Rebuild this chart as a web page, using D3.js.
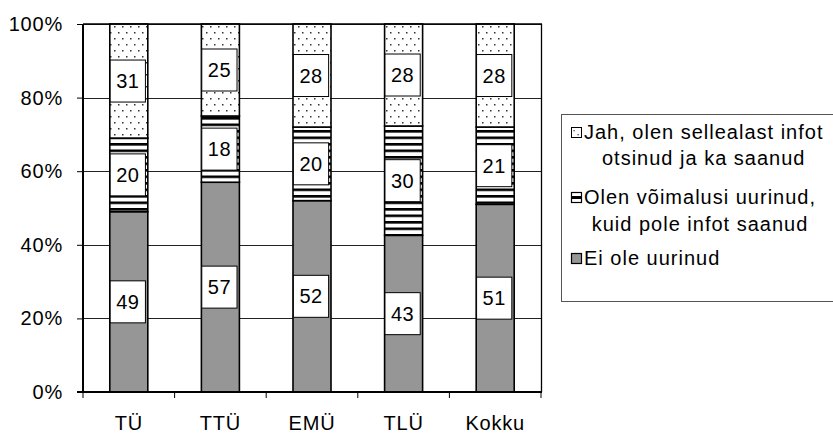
<!DOCTYPE html>
<html>
<head>
<meta charset="utf-8">
<script src="https://cdn.jsdelivr.net/npm/d3@7"></script>
<style>
  html, body { margin: 0; padding: 0; background: #fff; }
  svg { display: block; font-family: "Liberation Sans", Arial, sans-serif; }
</style>
</head>
<body>
<svg id="chart" width="833" height="434"></svg>
<script>
// ---- data ----
const categories = ["TÜ", "TTÜ", "EMÜ", "TLÜ", "Kokku"];
const eiOleUurinud = [49, 57, 52, 43, 51];
const olenVoimalusiUurinud = [20, 18, 20, 30, 21];
const jahOlenSaanud = [31, 25, 28, 28, 28];
const seriesNames = [
  ["Jah, olen sellealast infot", "otsinud ja ka saanud"],
  ["Olen võimalusi uurinud,", "kuid pole infot saanud"],
  ["Ei ole uurinud"]
];
const yTickValues = [0, 20, 40, 60, 80, 100];

// ---- layout ----
const svg = d3.select("#chart");
const plot = { left: 83, right: 541, top: 24, bottom: 392 };
const FONT = 20;

const x = d3.scaleBand().domain(categories)
  .range([plot.left, plot.right]).paddingInner(0.585).paddingOuter(0.2925);
const y = d3.scaleLinear().domain([0, 100]).range([plot.bottom, plot.top]);

// patterns
const defs = svg.append("defs");
const dots = defs.append("pattern").attr("id", "dots").attr("patternUnits", "userSpaceOnUse")
  .attr("width", 8).attr("height", 12);
dots.append("rect").attr("width", 8).attr("height", 12).attr("fill", "#fff");
dots.append("rect").attr("x", 2).attr("y", 2).attr("width", 1.5).attr("height", 1.5).attr("fill", "#333");
dots.append("rect").attr("x", 6).attr("y", 8).attr("width", 1.5).attr("height", 1.5).attr("fill", "#333");

const stripes = defs.append("pattern").attr("id", "stripes").attr("patternUnits", "userSpaceOnUse")
  .attr("width", 8).attr("height", 6.5);
stripes.append("rect").attr("width", 8).attr("height", 6.5).attr("fill", "#fff");
stripes.append("rect").attr("y", 0).attr("width", 8).attr("height", 2.6).attr("fill", "#000");

const fills = ["url(#dots)", "url(#stripes)", "#969696"];

// gridlines
svg.append("g").selectAll("line").data(yTickValues.filter(v => v > 0))
  .join("line")
  .attr("x1", plot.left).attr("x2", plot.right)
  .attr("y1", d => Math.round(y(d)) + 0.5).attr("y2", d => Math.round(y(d)) + 0.5)
  .attr("stroke", "#222").attr("stroke-width", 1);
// right border
svg.append("line").attr("x1", plot.right + 0.5).attr("x2", plot.right + 0.5)
  .attr("y1", plot.top).attr("y2", plot.bottom).attr("stroke", "#000").attr("stroke-width", 1.3);

// stacked data (normalised to 100%)
const rows = categories.map((c, i) => {
  const vals = [eiOleUurinud[i], olenVoimalusiUurinud[i], jahOlenSaanud[i]];
  const tot = d3.sum(vals);
  let acc = 0;
  return vals.map((v, k) => {
    const s = { cat: c, value: v, k: k, y0: acc / tot * 100, y1: (acc + v) / tot * 100 };
    acc += v;
    return s;
  });
}).flat();
const fillFor = k => fills[2 - k];

const bars = svg.append("g");
bars.selectAll("rect").data(rows).join("rect")
  .attr("x", d => x(d.cat))
  .attr("width", x.bandwidth())
  .attr("y", d => y(d.y1))
  .attr("height", d => y(d.y0) - y(d.y1))
  .attr("fill", d => fillFor(d.k))
  .attr("stroke", "#000").attr("stroke-width", 1.6);

// value labels
const labels = svg.append("g");
rows.forEach(d => {
  const cx = x(d.cat) + x.bandwidth() / 2 - 1;
  const cy = (y(d.y0) + y(d.y1)) / 2;
  const t = labels.append("text")
    .attr("x", cx).attr("y", cy + 7)
    .attr("text-anchor", "middle")
    .attr("font-size", FONT).attr("letter-spacing", 0.5)
    .text(d.value);
  const w = t.node().getComputedTextLength() + 12;
  labels.insert("rect", "text")
    .attr("x", cx - w / 2).attr("y", cy - 21)
    .attr("width", w).attr("height", 42)
    .attr("fill", "#fff").attr("stroke", "#000").attr("stroke-width", 1);
});

// y axis
const yAxis = svg.append("g").attr("transform", `translate(${plot.left},0)`)
  .call(d3.axisLeft(y).tickValues(yTickValues).tickFormat(d => d + "%").tickSize(6).tickPadding(14));
yAxis.select(".domain").attr("stroke", "#000").attr("stroke-width", 2).attr("d", `M0,${plot.top}V${plot.bottom}`);
yAxis.selectAll("text").attr("font-size", FONT).attr("font-family", "Liberation Sans, Arial, sans-serif")
  .attr("fill", "#000").attr("letter-spacing", 0.8);

// top border
svg.append("line").attr("x1", plot.left).attr("x2", plot.right + 1)
  .attr("y1", plot.top).attr("y2", plot.top).attr("stroke", "#000").attr("stroke-width", 1.5);

// x axis
const xg = svg.append("g");
xg.append("line").attr("x1", plot.left - 6).attr("x2", plot.right + 1)
  .attr("y1", plot.bottom).attr("y2", plot.bottom).attr("stroke", "#000").attr("stroke-width", 2);
const boundaries = categories.map(c => x(c) - x.step() * x.paddingInner() / 2).concat([plot.right]);
boundaries[0] = plot.left;
xg.selectAll("line.tk").data(boundaries).join("line").attr("class", "tk")
  .attr("x1", d => d).attr("x2", d => d)
  .attr("y1", plot.bottom).attr("y2", plot.bottom + 6)
  .attr("stroke", "#000").attr("stroke-width", 1);
xg.selectAll("text").data(categories).join("text")
  .attr("x", d => x(d) + x.bandwidth() / 2)
  .attr("y", 430)
  .attr("text-anchor", "middle")
  .attr("font-size", FONT).attr("letter-spacing", 0.8)
  .text(d => d);

// legend
const lg = svg.append("g");
lg.append("rect").attr("x", 561.5).attr("y", 114.5).attr("width", 290).attr("height", 187)
  .attr("fill", "#fff").attr("stroke", "#555").attr("stroke-width", 1);
const baselines = [[139, 165], [204, 231], [265]];
const textX = 584;
seriesNames.forEach((lines, i) => {
  const texts = lines.map((ln, j) => lg.append("text")
    .attr("x", textX).attr("y", baselines[i][j])
    .attr("font-size", FONT).attr("letter-spacing", 1)
    .text(ln));
  const widths = texts.map(t => t.node().getComputedTextLength());
  const maxW = d3.max(widths);
  texts.forEach((t, j) => t.attr("x", textX + (maxW - widths[j]) / 2));
  const iy = baselines[i][0] - 12;
  const ix = 571.5;
  const g = lg.append("g");
  if (i === 2) {
    g.append("rect").attr("x", ix).attr("y", iy + 0.5).attr("width", 10).attr("height", 10)
      .attr("fill", "#969696").attr("stroke", "#000").attr("stroke-width", 1.2);
  } else if (i === 1) {
    g.append("rect").attr("x", ix).attr("y", iy + 0.5).attr("width", 10).attr("height", 10)
      .attr("fill", "#fff").attr("stroke", "#000").attr("stroke-width", 1.2);
    g.append("rect").attr("x", ix).attr("y", iy + 4).attr("width", 10).attr("height", 3).attr("fill", "#000");
  } else {
    g.append("rect").attr("x", ix).attr("y", iy + 0.5).attr("width", 10).attr("height", 10)
      .attr("fill", "#fff").attr("stroke", "#000").attr("stroke-width", 1);
    g.append("rect").attr("x", ix + 2).attr("y", iy + 3).attr("width", 1.3).attr("height", 1.3).attr("fill", "#444");
    g.append("rect").attr("x", ix + 6).attr("y", iy + 7).attr("width", 1.3).attr("height", 1.3).attr("fill", "#444");
  }
});
</script>
</body>
</html>
